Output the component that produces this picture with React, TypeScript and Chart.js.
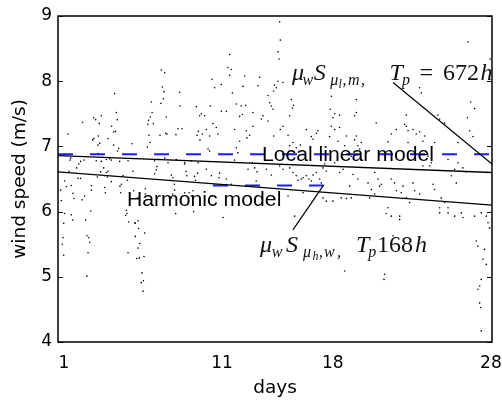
import React, { useEffect, useRef } from "react";
import { Chart, registerables } from "chart.js";

Chart.register(...registerables);

// ---------- axes ----------
const dayRange = [0.62, 28.07];
const speedRange = [4, 9];
const dayTicks = [1, 11, 18, 28];
const speedTicks = [4, 5, 6, 7, 8, 9];

// ---------- hourly wind speed samples [day, m/s] ----------
const week1Points: [number, number][] = [
  [7.16, 8.17], [7.37, 8.13], [7.22, 7.91], [7.32, 7.84], [7.28, 7.73], [7.13, 7.66], [6.52, 7.68], [6.57, 7.52],
  [6.46, 7.45], [6.35, 7.4], [6.31, 7.34], [6.65, 7.35], [7.47, 7.45], [7.51, 7.19], [7.43, 7.2], [7.07, 7.17],
  [6.38, 7.17], [6.44, 7.06], [6.27, 6.99], [4.2, 7.81], [4.31, 7.52], [4.37, 7.41], [4.01, 7.31], [4.14, 7.22],
  [4.25, 7.23], [3.78, 7.12], [4.14, 7.02], [4.46, 6.97], [4.39, 6.93], [3.36, 7.47], [3.0, 7.41], [3.23, 7.35],
  [2.88, 7.44], [3.17, 7.16], [2.88, 7.12], [2.81, 7.1], [3.26, 7.05], [3.15, 7.02], [2.18, 7.37], [1.25, 7.19],
  [5.3, 7.04], [8.32, 7.83], [8.34, 7.62], [8.21, 7.27], [8.46, 7.27], [8.08, 7.18], [9.37, 7.61], [9.69, 7.5],
  [9.58, 7.47], [9.5, 7.23], [9.41, 7.17], [9.6, 7.1], [9.75, 7.19],
  [3.15, 6.89], [1.42, 6.82], [1.38, 6.79], [2.05, 6.77], [1.93, 6.73], [1.8, 6.67], [2.26, 6.79], [3.04, 6.78],
  [3.36, 6.77], [3.68, 6.8], [3.89, 6.81], [3.99, 6.79], [4.52, 6.77], [5.05, 6.78], [6.73, 6.78], [6.95, 6.8],
  [7.37, 6.82], [7.58, 6.75], [8.1, 6.8], [8.63, 6.75], [9.05, 6.78], [9.48, 6.75],
  [1.32, 6.62], [1.04, 6.47], [1.15, 6.38], [1.46, 6.4], [1.89, 6.51], [2.05, 6.51], [2.73, 6.4], [2.73, 6.33],
  [3.11, 6.53], [3.51, 6.67], [3.78, 6.62], [3.68, 6.6], [3.57, 6.55], [3.74, 6.53], [3.32, 6.61], [3.99, 6.46],
  [4.63, 6.42], [4.54, 6.39], [4.73, 6.55], [5.01, 6.48], [5.36, 6.62], [6.84, 6.64], [6.88, 6.69], [6.73, 6.58],
  [7.79, 6.56], [7.89, 6.52], [7.98, 6.42], [8.63, 6.73], [8.72, 6.62], [8.76, 6.55], [9.26, 6.54], [9.45, 6.59],
  [9.31, 6.48], [9.16, 6.32], [8.91, 6.29], [9.05, 6.24], [8.63, 6.29],
  [3.57, 6.37], [3.61, 6.29], [4.58, 6.29], [5.41, 6.32], [6.14, 6.35], [5.68, 6.21], [6.14, 6.27], [0.79, 6.33],
  [0.83, 6.17], [1.57, 6.28], [1.63, 6.2], [2.14, 6.18], [2.31, 6.24], [2.69, 6.01], [4.94, 6.02], [4.98, 5.97],
  [4.9, 5.94], [7.79, 6.21], [8.0, 6.33], [7.87, 6.27], [8.06, 5.97], [9.2, 6.0],
  [1.04, 5.97], [0.98, 5.82], [1.46, 5.95], [1.55, 5.87], [2.37, 5.87], [2.45, 5.63], [2.56, 5.6], [2.62, 5.53],
  [0.94, 5.6], [0.89, 5.5], [0.98, 5.33], [2.52, 5.37], [2.45, 5.01], [5.09, 5.84], [5.51, 5.82], [5.68, 5.86],
  [5.72, 5.74], [5.47, 5.83], [6.1, 5.67], [5.51, 5.62], [5.79, 5.51], [5.68, 5.44], [5.05, 5.37], [5.6, 5.28],
  [5.76, 5.29], [6.06, 5.31], [5.93, 5.06], [5.89, 4.91], [6.02, 4.94], [6.0, 4.78],
];

const week2Points: [number, number][] = [
  [14.64, 8.91], [14.68, 8.63], [14.53, 8.45], [14.6, 8.34], [11.48, 8.41], [11.37, 8.21], [11.58, 8.18], [11.48, 8.09],
  [10.36, 8.03], [12.43, 8.08], [13.37, 8.06], [13.27, 7.93], [14.53, 8.0], [14.32, 7.94], [14.43, 7.9], [14.85, 7.98],
  [14.26, 7.85], [13.9, 7.78], [14.01, 7.67], [14.11, 7.62], [14.22, 7.57], [15.38, 7.72], [15.52, 7.63], [15.44, 7.59],
  [15.27, 7.47], [14.85, 7.31], [14.68, 7.26], [10.95, 7.95], [10.53, 7.9], [12.32, 7.92], [11.65, 7.82], [11.9, 7.65],
  [12.21, 7.62], [12.49, 7.63], [12.28, 7.49], [12.11, 7.46], [10.95, 7.54], [10.25, 7.62], [11.27, 7.54], [9.9, 7.47],
  [10.42, 7.35], [13.59, 7.47], [13.48, 7.42], [13.9, 7.39], [12.95, 7.52], [12.95, 7.31], [12.53, 7.24], [12.57, 7.13],
  [12.74, 7.17], [11.79, 7.26], [10.63, 7.29], [10.74, 7.19], [10.0, 7.26], [10.21, 7.16], [15.17, 7.17], [16.33, 7.26],
  [16.96, 7.2], [17.06, 7.24], [16.64, 7.15], [16.75, 7.11], [15.27, 7.01], [15.48, 7.06], [15.69, 6.98], [15.95, 7.02],
  [14.26, 7.16], [16.12, 6.88], [12.11, 7.08], [11.9, 6.98], [12.0, 6.9], [10.11, 6.96], [10.21, 6.93], [17.91, 7.77],
  [17.84, 7.57], [18.12, 7.5], [18.43, 7.48], [18.01, 7.44], [17.91, 7.31], [18.12, 7.26], [18.43, 7.29], [18.33, 7.08],
  [17.8, 7.15], [18.75, 7.01], [18.86, 7.16],
  [12.91, 6.75], [13.06, 6.67], [13.21, 6.61], [13.16, 6.47], [12.64, 6.65], [11.79, 6.79], [10.84, 6.59], [10.8, 6.52],
  [10.0, 6.65], [10.32, 6.55], [11.27, 6.5], [11.58, 6.42], [13.8, 6.65], [14.11, 6.56], [14.64, 6.7], [14.85, 6.65],
  [15.27, 6.67], [15.48, 6.6], [15.69, 6.55], [15.8, 6.48], [16.01, 6.5], [16.12, 6.52], [16.33, 6.55], [16.49, 6.5],
  [16.64, 6.47], [16.75, 6.56], [16.96, 6.6], [17.17, 6.5], [17.27, 6.44], [17.38, 6.67], [17.49, 6.73], [17.59, 6.62],
  [18.12, 6.75], [18.43, 6.6], [18.65, 6.65], [15.17, 6.24], [16.12, 6.29], [17.38, 6.21], [17.59, 6.16], [18.01, 6.16],
  [18.54, 6.21], [18.86, 6.2], [11.06, 5.91], [15.59, 5.93], [18.75, 5.09],
];

const week3Points: [number, number][] = [
  [26.55, 8.6], [27.95, 8.34], [23.49, 7.9], [23.6, 7.82], [26.72, 7.68], [26.97, 7.58], [24.65, 7.48], [24.76, 7.42],
  [25.07, 7.36], [26.51, 7.44], [26.66, 7.24], [19.49, 7.72], [19.49, 7.52], [19.38, 7.47], [20.75, 7.36], [22.65, 7.48],
  [22.54, 7.34], [22.65, 7.31], [22.76, 7.24], [23.07, 7.26], [23.28, 7.19], [23.49, 7.22], [23.81, 7.16], [23.7, 7.08],
  [22.02, 7.26], [21.7, 7.19], [19.49, 7.16], [19.38, 7.1], [19.8, 7.06], [19.59, 7.01], [19.7, 6.96], [21.49, 7.07],
  [22.76, 7.06], [24.44, 7.06], [25.92, 7.06], [26.87, 7.15], [24.02, 6.85], [24.13, 6.7], [24.23, 6.75], [23.7, 6.7],
  [25.92, 6.75], [25.71, 6.65], [25.5, 6.55], [25.81, 6.44], [26.23, 6.67], [26.44, 6.61], [25.29, 6.8], [19.17, 6.85],
  [20.65, 6.6], [20.86, 6.5], [21.07, 6.42], [20.96, 6.39], [20.23, 6.44], [20.44, 6.34], [19.59, 6.5], [19.28, 6.57],
  [19.07, 6.39], [21.7, 6.5], [21.91, 6.44], [22.02, 6.32], [22.33, 6.29], [22.44, 6.39], [23.07, 6.44], [23.18, 6.32],
  [23.49, 6.27], [22.65, 6.21], [22.86, 6.14], [24.34, 6.42], [24.44, 6.34], [24.86, 6.21], [25.07, 6.14], [25.29, 6.06],
  [24.76, 6.06], [24.76, 5.98], [25.29, 5.98], [25.71, 5.93], [26.13, 5.98], [26.23, 5.91], [26.97, 5.93], [27.39, 5.98],
  [27.71, 5.93], [27.82, 5.83], [27.92, 5.75], [21.49, 6.06], [21.38, 5.97], [21.7, 5.93], [22.23, 5.93], [22.23, 5.88],
  [21.81, 5.63], [21.28, 5.04], [21.24, 4.96], [27.08, 5.55], [27.18, 5.47], [27.6, 5.42], [27.5, 5.27], [27.71, 5.19],
  [27.39, 4.96], [27.29, 4.86], [27.18, 4.81], [27.29, 4.6], [27.35, 4.53], [27.39, 4.17], [19.17, 6.21], [20.33, 6.21],
  [20.65, 6.27],
];

// ---------- model curves ----------
const localLinearDays = [0.62, 28.07];
const localLinearSpeeds = [6.86, 6.6];
const harmonicDays = [0.62, 28.07];
const harmonicSpeeds = [6.61, 6.1];
const localMeanDays = [0.62, 28.07];
const localMeanSpeeds = [6.88, 6.88];
const harmonicMeanDays = [10.42, 17.4];
const harmonicMeanSpeeds = [6.4, 6.4];

// ---------- annotation pointers ----------
const pointer672Days = [21.81, 28.07];
const pointer672Speeds = [7.98, 6.73];
const pointer168Days = [15.48, 17.43];
const pointer168Speeds = [5.72, 6.41];

const textLabels = [
  { text: "Local linear model", day: 13.52, speed: 6.78 },
  { text: "Harmonic model", day: 4.98, speed: 6.08 },
];

type Seg = { t: string; dx: number; size: number; dy: number; italic: boolean };
const math672: Seg[] = [
  { t: "μ", dx: 0, size: 24, dy: 0, italic: true },
  { t: "w", dx: 10.5, size: 16, dy: 5, italic: true },
  { t: "S", dx: 21.7, size: 24, dy: 0, italic: true },
  { t: "μ", dx: 38.3, size: 16, dy: 5, italic: true },
  { t: "l", dx: 46.5, size: 12, dy: 8, italic: true },
  { t: ",", dx: 50.5, size: 16, dy: 5, italic: true },
  { t: "m", dx: 56, size: 16, dy: 5, italic: true },
  { t: ",", dx: 69, size: 16, dy: 5, italic: true },
  { t: "T", dx: 97.5, size: 24, dy: 0, italic: true },
  { t: "p", dx: 110, size: 16, dy: 5, italic: true },
  { t: "=", dx: 127.5, size: 24, dy: 0, italic: false },
  { t: "672", dx: 151, size: 24, dy: 0, italic: false },
  { t: "h", dx: 188.5, size: 24, dy: 0, italic: true },
];
const math168: Seg[] = [
  { t: "μ", dx: 0, size: 24, dy: 0, italic: true },
  { t: "w", dx: 11.7, size: 16, dy: 5, italic: true },
  { t: "S", dx: 26, size: 24, dy: 0, italic: true },
  { t: "μ", dx: 43, size: 16, dy: 5, italic: true },
  { t: "h", dx: 52.5, size: 12, dy: 8, italic: true },
  { t: ",", dx: 59, size: 16, dy: 5, italic: true },
  { t: "w", dx: 64, size: 16, dy: 5, italic: true },
  { t: ",", dx: 77, size: 16, dy: 5, italic: true },
  { t: "T", dx: 96, size: 24, dy: 0, italic: true },
  { t: "p", dx: 108.3, size: 16, dy: 5, italic: true },
  { t: "168", dx: 117, size: 24, dy: 0, italic: false },
  { t: "h", dx: 155, size: 24, dy: 0, italic: true },
];
const mathLabels = [
  { segs: math672, day: 15.42, speed: 8.02 },
  { segs: math168, day: 13.4, speed: 5.385 },
];

const toXY = (days: number[], speeds: number[]) => days.map((d, i) => ({ x: d, y: speeds[i] }));

const overlayPlugin = {
  id: "overlay",
  afterDatasetsDraw(chart: any) {
    const { ctx, chartArea: a, scales } = chart;
    const x = scales.x;
    const y = scales.y;
    ctx.save();
    ctx.beginPath();
    ctx.rect(a.left, a.top, a.right - a.left, a.bottom - a.top);
    ctx.clip();
    ctx.fillStyle = "#000";
    ctx.textBaseline = "alphabetic";
    ctx.textAlign = "left";
    for (const l of textLabels) {
      const px = x.getPixelForValue(l.day);
      const py = y.getPixelForValue(l.speed);
      ctx.save();
      ctx.translate(px, py);
      ctx.scale(1.1, 1);
      ctx.font = '19.3px "Liberation Sans"';
      ctx.fillText(l.text, 0, 0);
      ctx.restore();
    }
    ctx.fillStyle = "#111";
    for (const m of mathLabels) {
      const px = x.getPixelForValue(m.day);
      const py = y.getPixelForValue(m.speed);
      for (const s of m.segs) {
        ctx.font = `${s.italic ? "italic " : ""}${s.size}px "Liberation Serif"`;
        ctx.fillText(s.t, px + s.dx, py + s.dy);
      }
    }
    ctx.restore();

    ctx.save();
    ctx.strokeStyle = "#000";
    ctx.lineWidth = 1.5;
    ctx.strokeRect(a.left, a.top, a.right - a.left, a.bottom - a.top);
    ctx.lineWidth = 1;
    ctx.beginPath();
    for (const v of speedTicks) {
      const py = Math.round(y.getPixelForValue(v)) + 0.5;
      ctx.moveTo(a.left, py);
      ctx.lineTo(a.left + 5, py);
      ctx.moveTo(a.right, py);
      ctx.lineTo(a.right - 5, py);
    }
    ctx.stroke();
    ctx.restore();
  },
};

export default function App() {
  const ref = useRef<HTMLCanvasElement | null>(null);
  useEffect(() => {
    if (!ref.current) return;
    const scatterData = [...week1Points, ...week2Points, ...week3Points].map(([d, s]) => ({ x: d, y: s }));
    const lineStyle = { showLine: true, pointRadius: 0, pointHoverRadius: 0, fill: false, tension: 0 };
    const tickFont = { family: "DejaVu Sans", size: 17 };
    const titleFont = { family: "DejaVu Sans", size: 18.5 };
    const chart = new Chart(ref.current, {
      type: "scatter",
      data: {
        datasets: [
          {
            label: "hourly wind speed",
            data: scatterData,
            pointRadius: 0.8,
            pointBorderWidth: 0,
            pointBackgroundColor: "#000",
            backgroundColor: "#000",
            order: 10,
          },
          { label: "local mean", data: toXY(localMeanDays, localMeanSpeeds), ...lineStyle, borderColor: "#1c1cff", borderWidth: 2, borderDash: [15, 17], order: 3 },
          { label: "harmonic mean", data: toXY(harmonicMeanDays, harmonicMeanSpeeds), ...lineStyle, borderColor: "#1c1cff", borderWidth: 2, borderDash: [15, 17], order: 3 },
          { label: "Local linear model", data: toXY(localLinearDays, localLinearSpeeds), ...lineStyle, borderColor: "#000", borderWidth: 1.3, order: 2 },
          { label: "Harmonic model", data: toXY(harmonicDays, harmonicSpeeds), ...lineStyle, borderColor: "#000", borderWidth: 1.3, order: 2 },
          { label: "pointer 672h", data: toXY(pointer672Days, pointer672Speeds), ...lineStyle, borderColor: "#000", borderWidth: 1.2, order: 1 },
          { label: "pointer 168h", data: toXY(pointer168Days, pointer168Speeds), ...lineStyle, borderColor: "#000", borderWidth: 1.2, order: 1 },
        ],
      } as any,
      options: {
        animation: false,
        responsive: false,
        maintainAspectRatio: false,
        layout: { padding: { top: 16, right: 10, left: 0, bottom: 0 } },
        plugins: { legend: { display: false }, tooltip: { enabled: false } },
        scales: {
          x: {
            type: "linear",
            min: dayRange[0],
            max: dayRange[1],
            afterBuildTicks: (s: any) => {
              s.ticks = dayTicks.map((v) => ({ value: v }));
            },
            afterFit: (s: any) => {
              s.height = 59;
              s.paddingLeft = 0;
              s.paddingRight = 0;
            },
            grid: { display: false, drawTicks: false },
            border: { display: false },
            ticks: { font: tickFont, color: "#000", padding: 11, maxRotation: 0, autoSkip: false },
            title: { display: true, text: "days", font: titleFont, color: "#000", padding: { top: 0, bottom: 2 } },
          },
          y: {
            type: "linear",
            min: speedRange[0],
            max: speedRange[1],
            afterBuildTicks: (s: any) => {
              s.ticks = speedTicks.map((v) => ({ value: v }));
            },
            afterFit: (s: any) => {
              s.width = 58;
              s.paddingTop = 0;
              s.paddingBottom = 0;
            },
            grid: { display: false, drawTicks: false },
            border: { display: false },
            ticks: { font: tickFont, color: "#000", padding: 6, autoSkip: false },
            title: { display: true, text: "wind speed (m/s)", font: titleFont, color: "#000", padding: { top: 9, bottom: 0 } },
          },
        },
      } as any,
      plugins: [overlayPlugin],
    });
    return () => chart.destroy();
  }, []);
  return (
    <div style={{ position: "fixed", left: 0, top: 0, width: 502, height: 401, background: "#fff" }}>
      <canvas ref={ref} width={502} height={401} style={{ display: "block" }} />
    </div>
  );
}
